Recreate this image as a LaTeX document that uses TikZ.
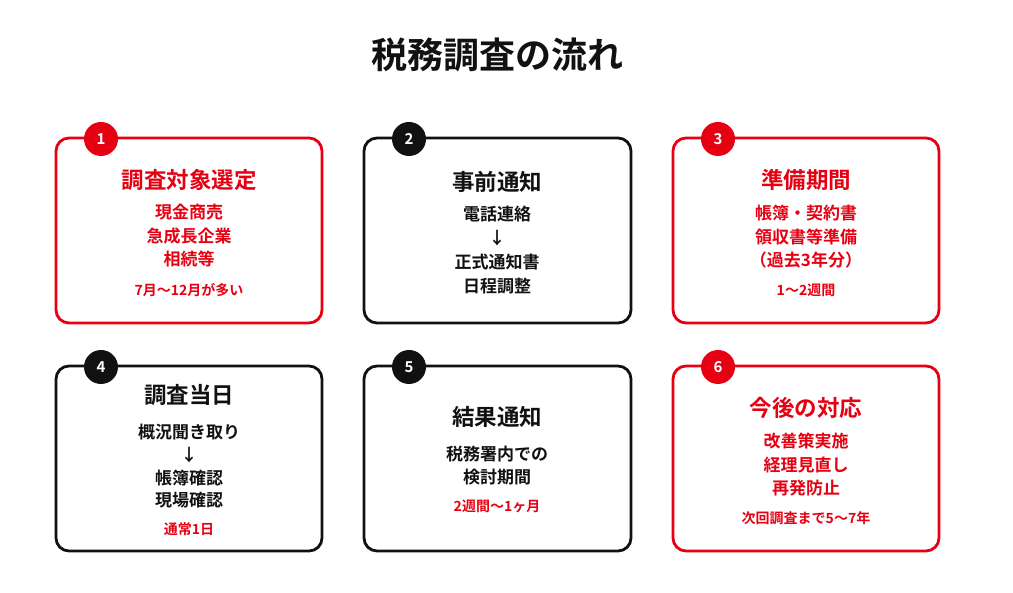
\documentclass[tikz,border=0pt]{standalone}
\usepackage{fontspec}
\setmainfont{Noto Sans CJK JP}[BoldFont={* Bold}]
\definecolor{red}{HTML}{E60012}
\definecolor{ink}{HTML}{111111}
\begin{document}
\begin{tikzpicture}[x=1pt,y=-1pt,
  card/.style={draw=#1,line width=2.8pt,rounded corners=13pt},
  num/.style={circle,fill=#1,minimum size=34pt,inner sep=0pt,text=white,font=\fontsize{15}{15}\selectfont\bfseries},
  ttl/.style={text=#1,font=\fontsize{22.5}{24}\selectfont\bfseries},
  ln/.style={text=#1,font=\fontsize{17}{19}\selectfont\bfseries},
  nt/.style={text=#1,font=\fontsize{14}{15}\selectfont\bfseries}]
\useasboundingbox (0,0) rectangle (1013,593);
\node[font=\fontsize{36}{38}\selectfont\bfseries,text=ink] (title) at (497,55) {税務調査の流れ};
\draw[card=red] (56,138) rectangle (322,323);
\draw[card=ink] (364,138) rectangle (631,323);
\draw[card=red] (673,138) rectangle (939,323);
\draw[card=ink] (56,366) rectangle (322,551);
\draw[card=ink] (364,366) rectangle (631,551);
\draw[card=red] (673,366) rectangle (939,551);
\node[num=red] (n1) at (101,139) {1};
\node[num=ink] (n2) at (409,139) {2};
\node[num=red] (n3) at (718,139) {3};
\node[num=ink] (n4) at (101,367) {4};
\node[num=ink] (n5) at (409,367) {5};
\node[num=red] (n6) at (718,367) {6};
% box1
\node[ttl=red] (t1) at (189,180) {調査対象選定};
\node[ln=red] (a1) at (189,212) {現金商売};
\node[ln=red] (a2) at (189,236) {急成長企業};
\node[ln=red] (a3) at (189,259) {相続等};
\node[nt=red] (a4) at (189,290) {7月〜12月が多い};
% box2
\node[ttl=ink] (t2) at (497,182) {事前通知};
\node[ln=ink] (b1) at (497,214) {電話連絡};
\node[ln=ink] (b2) at (497,238) {↓};
\node[ln=ink] (b3) at (497,262) {正式通知書};
\node[ln=ink] (b4) at (497,286) {日程調整};
% box3
\node[ttl=red] (t3) at (806,180) {準備期間};
\node[ln=red] (c1) at (806,213) {帳簿・契約書};
\node[ln=red] (c2) at (806,237) {領収書等準備};
\node[ln=red] (c3) at (806,260) {（過去3年分）};
\node[nt=red] (c4) at (806,290) {1〜2週間};
% box4
\node[ttl=ink] (t4) at (189,395) {調査当日};
\node[ln=ink] (d1) at (189,432) {概況聞き取り};
\node[ln=ink] (d2) at (189,455) {↓};
\node[ln=ink] (d3) at (189,478) {帳簿確認};
\node[ln=ink] (d4) at (189,500) {現場確認};
\node[nt=red] (d5) at (189,529) {通常1日};
% box5
\node[ttl=ink] (t5) at (497,417) {結果通知};
\node[ln=ink] (e1) at (497,454) {税務署内での};
\node[ln=ink] (e2) at (497,477) {検討期間};
\node[nt=red] (e3) at (497,506) {2週間〜1ヶ月};
% box6
\node[ttl=red] (t6) at (806,408) {今後の対応};
\node[ln=red] (f1) at (806,441) {改善策実施};
\node[ln=red] (f2) at (806,465) {経理見直し};
\node[ln=red] (f3) at (806,488) {再発防止};
\node[nt=red] (f4) at (806,518) {次回調査まで5〜7年};
\end{tikzpicture}
\end{document}
